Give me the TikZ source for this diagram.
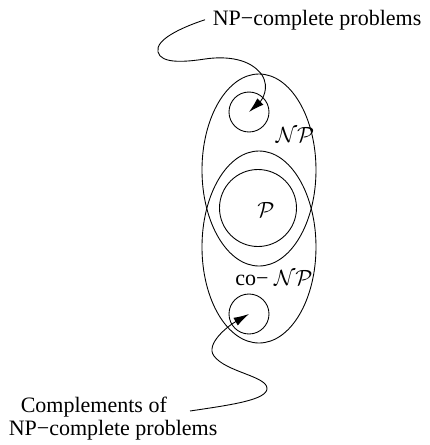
\documentclass[tikz,border=0pt]{standalone}
\usepackage{fontspec}
\setmainfont{Liberation Serif}
\usetikzlibrary{arrows.meta, positioning, shapes.geometric}
\newcommand{\px}{0.4545pt}

\begin{document}
\begin{tikzpicture}[
    x=\px, y=-\px,
    >={Latex[length=7pt,width=4pt]},
    cls/.style ={draw, ellipse, inner sep=0pt, minimum width=114*\px,
                 minimum height=192*\px},
    ring/.style={draw, circle, inner sep=0pt, minimum size=#1*\px},
    txt/.style ={anchor=base west},
    flow/.style={->},
]
\useasboundingbox (0,0) rectangle (430,445);
\node[cls] (np)   at (259,170) {};
\node[cls] (conp) at (259,247) {};
\node[ring=77] (p)     at (258,208) {};
\node[ring=40] (npc)   at (249,112) {};
\node[ring=40] (conpc) at (249,314) {};
\node (nplbl)   at (295,135) {$\mathcal{NP}$};
\node (plbl)    at (266,210) {$\mathcal{P}$};
\node (conplbl) at (274,278) {co− $\mathcal{NP}$};
\node[txt] (toptxt) at (205,25)  {NP−complete problems};
\node[txt] (cmpa)   at (13,412)  {Complements of};
\node[txt] (cmpb)   at (1,435)   {NP−complete problems};
% wiggly pointers into the small circles
\draw[flow] (toptxt.west) .. controls (180,28) and (155,40) .. (158,52)
   .. controls (161,64) and (185,62) .. (205,59)
   .. controls (225,56) and (250,58) .. (262,75)
   .. controls (270,88) and (262,100) .. (npc.center);
\draw[flow] ([xshift=7pt,yshift=-2pt]cmpa.east) .. controls (230,405) and (268,400) .. (267,388)
   .. controls (266,376) and (226,372) .. (214,356)
   .. controls (205,344) and (228,326) .. (conpc.center);
\end{tikzpicture}
\end{document}
